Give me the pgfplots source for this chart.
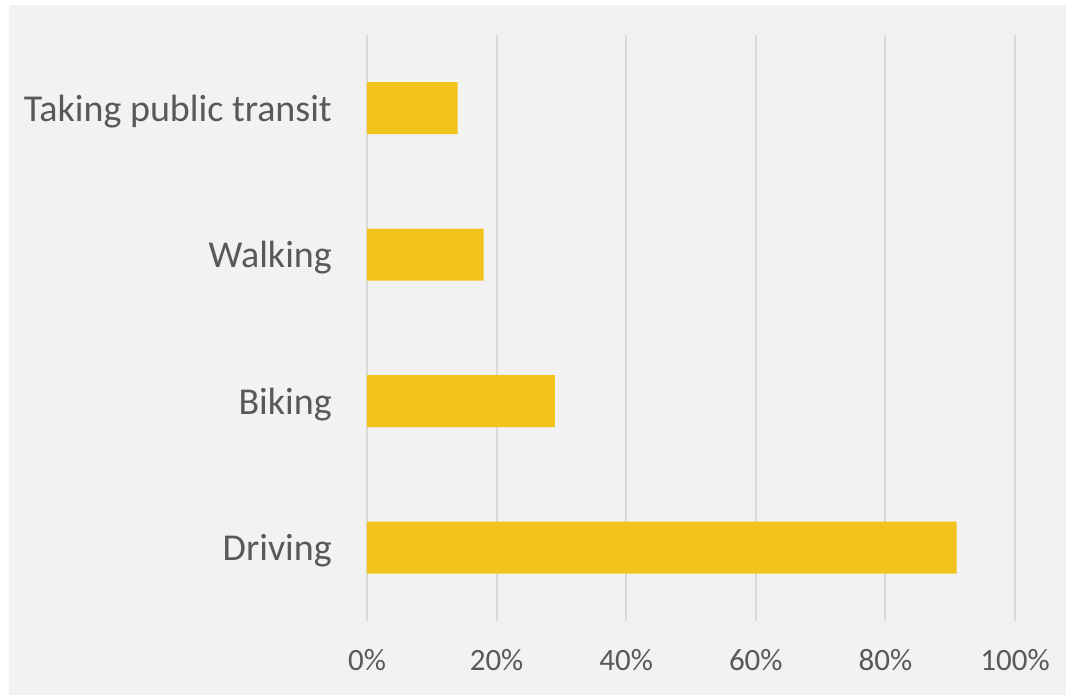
\documentclass[border=0pt]{standalone}
\usepackage{fontspec}
\setmainfont{Carlito}
\usepackage{pgfplots}
\pgfplotsset{compat=1.18}
\definecolor{bg}{HTML}{F2F2F2}
\definecolor{bargold}{HTML}{F2C31A}
\definecolor{txt}{HTML}{595959}
\definecolor{gridc}{HTML}{D9D9D9}
\begin{document}
\begin{tikzpicture}[x=1pt,y=1pt]
\useasboundingbox[fill=white] (0,0) rectangle (1066,695);
\fill[bg] (9,0) rectangle (1066,690);
\begin{axis}[
  at={(367pt,74pt)}, anchor=south west,
  scale only axis, width=648pt, height=586pt,
  xbar, bar width=52pt,
  xmin=0, xmax=100, ymin=-0.5, ymax=3.5,
  xtick={0,20,40,60,80,100},
  xticklabels={0\%,20\%,40\%,60\%,80\%,100\%},
  ytick={0,1,2,3},
  yticklabels={Driving,Biking,Walking,Taking public transit},
  axis line style={draw=none},
  major tick length=0pt,
  tick style={draw=none},
  xmajorgrids,
  major grid style={color=gridc, line width=2pt},
  xticklabel style={font=\fontsize{31}{34}\selectfont, text=txt, anchor=north, inner sep=0pt, text height=0.63em, text depth=0pt, yshift=-43pt},
  yticklabel style={font=\fontsize{38}{42}\selectfont, text=txt, anchor=east, inner sep=0pt, text height=0.644em, text depth=0pt, xshift=-35pt, yshift=-10pt},
  clip=false,
]
\addplot[fill=bargold, draw=none] coordinates {(91,0) (29,1) (18,2) (14,3)};
\end{axis}
\end{tikzpicture}
\end{document}
